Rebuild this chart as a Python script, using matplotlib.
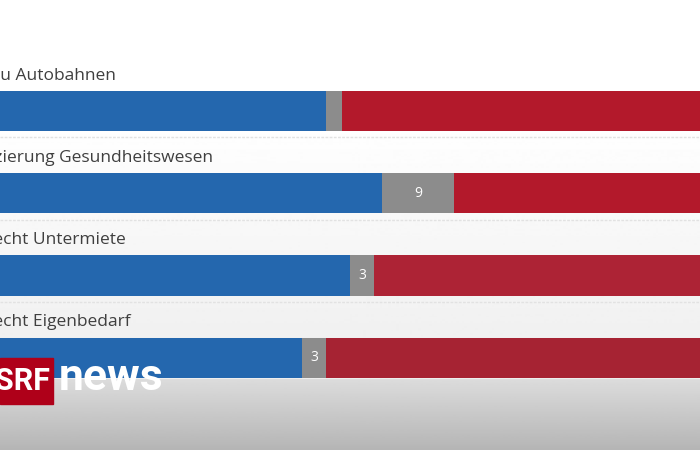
import matplotlib
matplotlib.use("Agg")
import matplotlib.pyplot as plt
import numpy as np

# Umfragewerte in Prozent (Ja / unentschieden / Nein)
vorlagen = ["Ausbau Autobahnen", "Finanzierung Gesundheitswesen",
            "Mietrecht Untermiete", "Mietrecht Eigenbedarf"]
ja = [46, 53, 49, 43]
weiss_nicht = [2, 9, 3, 3]
nein = [52, 38, 48, 54]

blau = "#2467ae"
grau = "#8c8c8c"
rot = ["#b3192b", "#b3192b", "#ad2335", "#a62333"]  # unten etwas dunkler (verlauf im screenshot)

plt.rcParams["font.family"] = ["Open Sans", "DejaVu Sans"]

fig = plt.figure(figsize=(7, 4.5), dpi=100)

# hintergrund mit verlauf (screenshot)
bg = fig.add_axes([0, 0, 1, 1], zorder=0)
zeilen = np.linspace(0, 450, 451)
werte = np.where(zeilen < 380,
                 1.0 - 0.07 * np.clip((zeilen - 120) / 260, 0, 1),
                 0.86 - 0.15 * (zeilen - 380) / 70)
bg.imshow(werte[:, None], cmap="gray", vmin=0, vmax=1, aspect="auto",
          extent=[0, 1, 0, 1])
bg.axis("off")

ax = fig.add_axes([0, 0, 1, 1], zorder=1)
ax.patch.set_alpha(0)
y = np.arange(len(vorlagen))
ax.barh(y, ja, height=0.49, color=blau, zorder=2)
ax.barh(y, weiss_nicht, left=ja, height=0.49, color=grau, zorder=2)
links_nein = [a + b for a, b in zip(ja, weiss_nicht)]
ax.barh(y, nein, left=links_nein, height=0.49, color=rot, zorder=2)

for i in y:
    # beschriftung beginnt links ausserhalb des bildausschnitts
    ax.text(-1.0, i - 0.43, vorlagen[i], ha="left", va="center", fontsize=12.5,
            color="#3f3f3f", clip_on=False)
    if weiss_nicht[i] >= 3:
        ax.text(ja[i] + weiss_nicht[i] / 2, i, str(weiss_nicht[i]),
                ha="center", va="center", fontsize=10, color="white", zorder=3)
    if i < len(vorlagen) - 1:
        ax.axhline(i + 0.32, color="#e2e2e2", lw=1, ls=(0, (2, 1)), zorder=1)

ax.set_xlim(5.25, 92.75)
ax.set_ylim(4.12, -1.35)
ax.axis("off")

# SRF news logo
fig.patches.append(plt.Rectangle((0, 1 - 404 / 450), 53 / 700, 46 / 450,
                                 transform=fig.transFigure, color="#af0019",
                                 zorder=5))
fig.text(-5 / 700, 1 - 381 / 450, "SRF", fontsize=22, fontweight="bold",
         color="white", va="center", ha="left", zorder=6,
         family=["Roboto", "DejaVu Sans"])
fig.text(59 / 700, 1 - 378 / 450, "news", fontsize=32, fontweight="bold",
         color="white", va="center", ha="left", zorder=6,
         family=["Roboto", "DejaVu Sans"])

fig.savefig("out.png", dpi=100)
